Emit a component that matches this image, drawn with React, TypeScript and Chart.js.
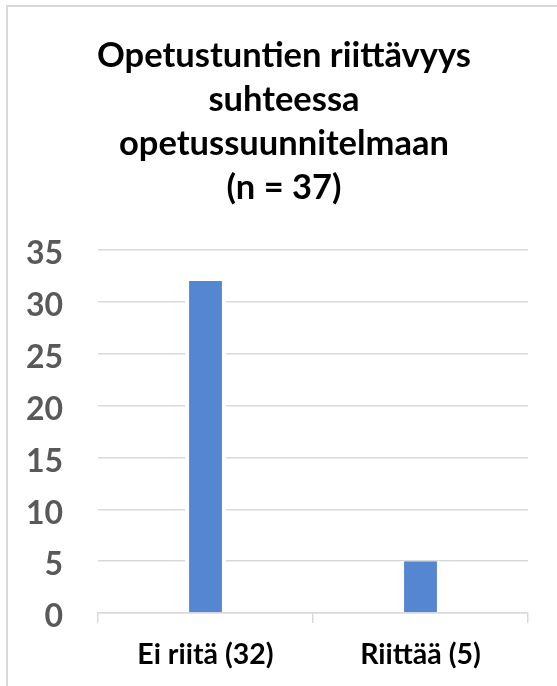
import React, { useEffect, useRef } from "react";
import { Chart, registerables } from "chart.js";

Chart.register(...registerables);

const categories: string[] = ["Ei riitä (32)", "Riittää (5)"];
const values: number[] = [32, 5];
const titleLines: string[] = ["Opetustuntien riittävyys", "suhteessa", "opetussuunnitelmaan", "(n = 37)"];
const yMin = 0;
const yMax = 35;
const yStep = 5;

const FONT = "Lato, 'Open Sans', sans-serif";

const framePlugin = {
  id: "frameAndTitle",
  beforeDraw(chart: any) {
    const ctx = chart.ctx;
    ctx.save();
    ctx.fillStyle = "#ffffff";
    ctx.fillRect(0, 0, chart.width, chart.height);
    ctx.strokeStyle = "#d9d9d9";
    ctx.lineWidth = 2;
    ctx.strokeRect(7, 6, chart.width + 20, chart.height + 20);
    ctx.restore();
  },
  afterDraw(chart: any) {
    const ctx = chart.ctx;
    ctx.save();
    ctx.fillStyle = "#000000";
    ctx.font = `bold 34.5px ${FONT}`;
    ctx.textAlign = "center";
    ctx.textBaseline = "alphabetic";
    titleLines.forEach((line, i) => {
      ctx.fillText(line, 284, 67 + i * 44);
    });
    ctx.restore();
  },
};

export default function App() {
  const ref = useRef<HTMLCanvasElement | null>(null);
  useEffect(() => {
    if (!ref.current) return;
    const chart = new Chart(ref.current, {
      type: "bar",
      data: {
        labels: categories,
        datasets: [
          {
            data: values,
            backgroundColor: "#5586d1",
            borderColor: "#ffffff",
            borderWidth: { left: 4, right: 4, top: 0, bottom: 0 } as any,
            borderSkipped: "start",
            categoryPercentage: 1,
            barPercentage: 0.19,
          },
        ],
      },
      options: {
        animation: false,
        responsive: false,
        devicePixelRatio: 1,
        layout: { padding: { top: 250, right: 29, left: 0, bottom: 0 } },
        plugins: {
          legend: { display: false },
          title: { display: false },
          tooltip: { enabled: false },
        },
        scales: {
          x: {
            offset: true,
            grid: {
              display: true,
              drawOnChartArea: false,
              drawTicks: true,
              tickLength: 10,
              color: "#d9d9d9",
              lineWidth: 1.5,
              offset: true,
            },
            border: { display: true, color: "#d9d9d9", width: 1.5 },
            ticks: {
              color: "#000000",
              font: { family: FONT, size: 28.5, weight: "bold" },
              padding: 15,
              maxRotation: 0,
            },
            afterFit(scale: any) {
              scale.height = 73;
            },
          },
          y: {
            min: yMin,
            max: yMax,
            ticks: {
              stepSize: yStep,
              color: "#595959",
              font: { family: FONT, size: 32, weight: "bold" },
              padding: 35,
              labelOffset: 4,
            },
            grid: {
              color: "#d9d9d9",
              lineWidth: 1.5,
              drawTicks: false,
            },
            border: { display: false },
            afterFit(scale: any) {
              scale.width = 98;
            },
          },
        },
      },
      plugins: [framePlugin],
    });
    return () => chart.destroy();
  }, []);
  return (
    <canvas
      ref={ref}
      width={557}
      height={686}
      style={{ position: "fixed", left: 0, top: 0, width: 557, height: 686, display: "block" }}
    />
  );
}
